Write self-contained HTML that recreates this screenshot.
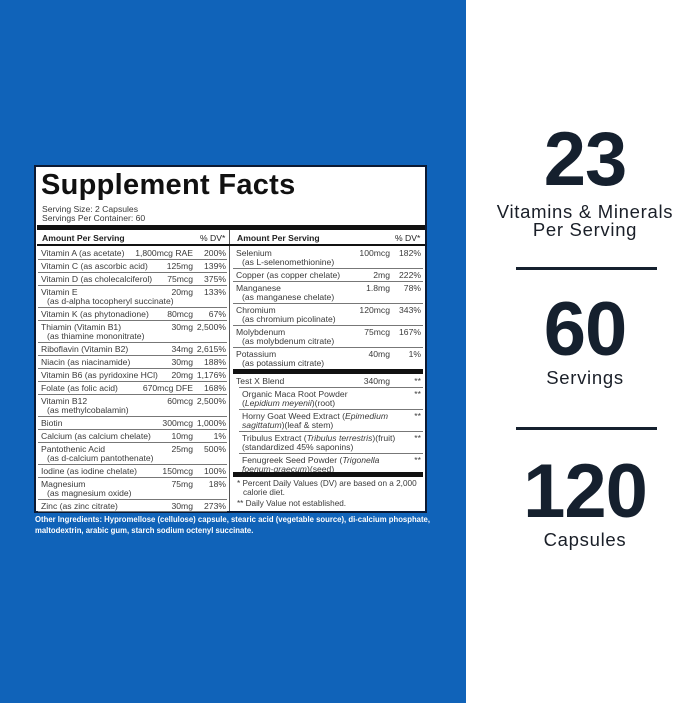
<!DOCTYPE html>
<html><head><meta charset="utf-8"><style>
*{margin:0;padding:0;box-sizing:border-box}
body{width:679px;height:703px;position:relative;background:#fff;font-family:"Liberation Sans",sans-serif;overflow:hidden}
.blue{position:absolute;left:0;top:0;width:466px;height:703px;background:#1063b9}
.box{position:absolute;left:34px;top:165px;width:393px;height:348px;background:#fff;border:2px solid #0c1a33}
.a{position:absolute;font-size:8.6px;color:#3a3a3a;line-height:9px;white-space:nowrap}
.r{position:absolute;height:1px;background:#777}
.bar{position:absolute;background:#111}
.big{position:absolute;left:485px;width:200px;text-align:center;font-weight:bold;color:#15202e;font-size:76px;line-height:76px;letter-spacing:-1px}
.lbl{position:absolute;left:485px;width:200px;text-align:center;color:#1a1f28;font-size:18.5px;line-height:19px;letter-spacing:0.7px}
.hl{position:absolute;left:516px;width:141px;height:3px;background:#15202e}
</style></head><body>
<div class="blue"></div>
<div class="box"></div>
<div class="a" style="left:41px;top:169px;font-size:29px;line-height:32px;font-weight:bold;color:#111;letter-spacing:0.3px">Supplement Facts</div>
<div class="a" style="left:42px;top:205px">Serving Size: 2 Capsules</div>
<div class="a" style="left:42px;top:214px">Servings Per Container: 60</div>
<div class="bar" style="left:37px;top:225px;width:388px;height:5px"></div>
<div class="bar" style="left:229px;top:230px;width:1px;height:281px;background:#555"></div>
<div class="a" style="left:42px;top:234px;font-weight:bold;color:#222">Amount Per Serving</div>
<div class="a" style="left:200px;top:234px;color:#222">% DV*</div>
<div class="a" style="left:237px;top:234px;font-weight:bold;color:#222">Amount Per Serving</div>
<div class="a" style="left:395px;top:234px;color:#222">% DV*</div>
<div class="bar" style="left:37px;top:244px;width:388px;height:1.5px"></div>
<div id="L"></div>
<div class="bar" style="left:233px;top:369px;width:190px;height:5px"></div>
<div class="bar" style="left:233px;top:472px;width:190px;height:5px"></div>
<div class="a" style="left:237px;top:479px;font-size:8.2px">* Percent Daily Values (DV) are based on a 2,000</div>
<div class="a" style="left:243px;top:488px;font-size:8.2px">calorie diet.</div>
<div class="a" style="left:237px;top:499px;font-size:8.2px">** Daily Value not established.</div>
<div class="a" style="left:35px;top:515px;color:#fff;font-weight:bold;font-size:8.6px;transform:scaleX(0.9);transform-origin:left">Other Ingredients: Hypromellose (cellulose) capsule, stearic acid (vegetable source), di-calcium phosphate,</div>
<div class="a" style="left:35px;top:526px;color:#fff;font-weight:bold;font-size:8.6px;transform:scaleX(0.9);transform-origin:left">maltodextrin, arabic gum, starch sodium octenyl succinate.</div>
<div class="big" style="top:122px">23</div>
<div class="lbl" style="top:202px">Vitamins &amp; Minerals</div>
<div class="lbl" style="top:220px">Per Serving</div>
<div class="hl" style="top:267px"></div>
<div class="big" style="top:292px">60</div>
<div class="lbl" style="top:368px">Servings</div>
<div class="hl" style="top:427px"></div>
<div class="big" style="top:454px">120</div>
<div class="lbl" style="top:530px">Capsules</div>
<script>
var L=[["Vitamin A (as acetate)","","1,800mcg RAE","200%",246],["Vitamin C (as ascorbic acid)","","125mg","139%",259],["Vitamin D (as cholecalciferol)","","75mcg","375%",272],["Vitamin E","(as d-alpha tocopheryl succinate)","20mg","133%",285],["Vitamin K (as phytonadione)","","80mcg","67%",307],["Thiamin (Vitamin B1)","(as thiamine mononitrate)","30mg","2,500%",320],["Riboflavin (Vitamin B2)","","34mg","2,615%",342],["Niacin (as niacinamide)","","30mg","188%",355],["Vitamin B6 (as pyridoxine HCl)","","20mg","1,176%",368],["Folate (as folic acid)","","670mcg DFE","168%",381],["Vitamin B12","(as methylcobalamin)","60mcg","2,500%",394],["Biotin","","300mcg","1,000%",416],["Calcium (as calcium chelate)","","10mg","1%",429],["Pantothenic Acid","(as d-calcium pantothenate)","25mg","500%",442],["Iodine (as iodine chelate)","","150mcg","100%",464],["Magnesium","(as magnesium oxide)","75mg","18%",477],["Zinc (as zinc citrate)","","30mg","273%",499]];
var R=[["Selenium","(as L-selenomethionine)","100mcg","182%",246,0],["Copper (as copper chelate)","","2mg","222%",268,0],["Manganese","(as manganese chelate)","1.8mg","78%",281,0],["Chromium","(as chromium picolinate)","120mcg","343%",303,0],["Molybdenum","(as molybdenum citrate)","75mcg","167%",325,0],["Potassium","(as potassium citrate)","40mg","1%",347,0],["Test X Blend","","340mg","**",374,0],["Organic Maca Root Powder","(<i>Lepidium meyenii</i>)(root)","","**",387,1],["Horny Goat Weed Extract (<i>Epimedium</i>","<i>sagittatum</i>)(leaf &amp; stem)","","**",409,1],["Tribulus Extract (<i>Tribulus terrestris</i>)(fruit)","(standardized 45% saponins)","","**",431,1],["Fenugreek Seed Powder (<i>Trigonella</i>","<i>foenum-graecum</i>)(seed)","","**",453,1]];
var h="";
function row(d,x0,w,ar,dr,ind){var t=d[4];
if(t!=246&&t!=374)h+='<div class="r" style="left:'+(x0+ind*6)+'px;top:'+t+'px;width:'+(w-ind*6)+'px"></div>';
h+='<div class="a" style="left:'+(x0+3+ind*6)+'px;top:'+(t+3)+'px">'+d[0]+'</div>';
if(d[1])h+='<div class="a" style="left:'+(x0+9)+'px;top:'+(t+12)+'px">'+d[1]+'</div>';
h+='<div class="a" style="right:'+(679-ar)+'px;top:'+(t+3)+'px">'+d[2]+'</div>';
h+='<div class="a" style="right:'+(679-dr)+'px;top:'+(t+3)+'px">'+d[3]+'</div>';}
L.forEach(function(d){row(d,38,189,193,226,0)});
h+='<div class="r" style="left:38px;top:511px;width:189px"></div>';
R.forEach(function(d){row(d,233,190,390,421,d[5])});
document.getElementById("L").innerHTML=h;
</script>
</body></html>
